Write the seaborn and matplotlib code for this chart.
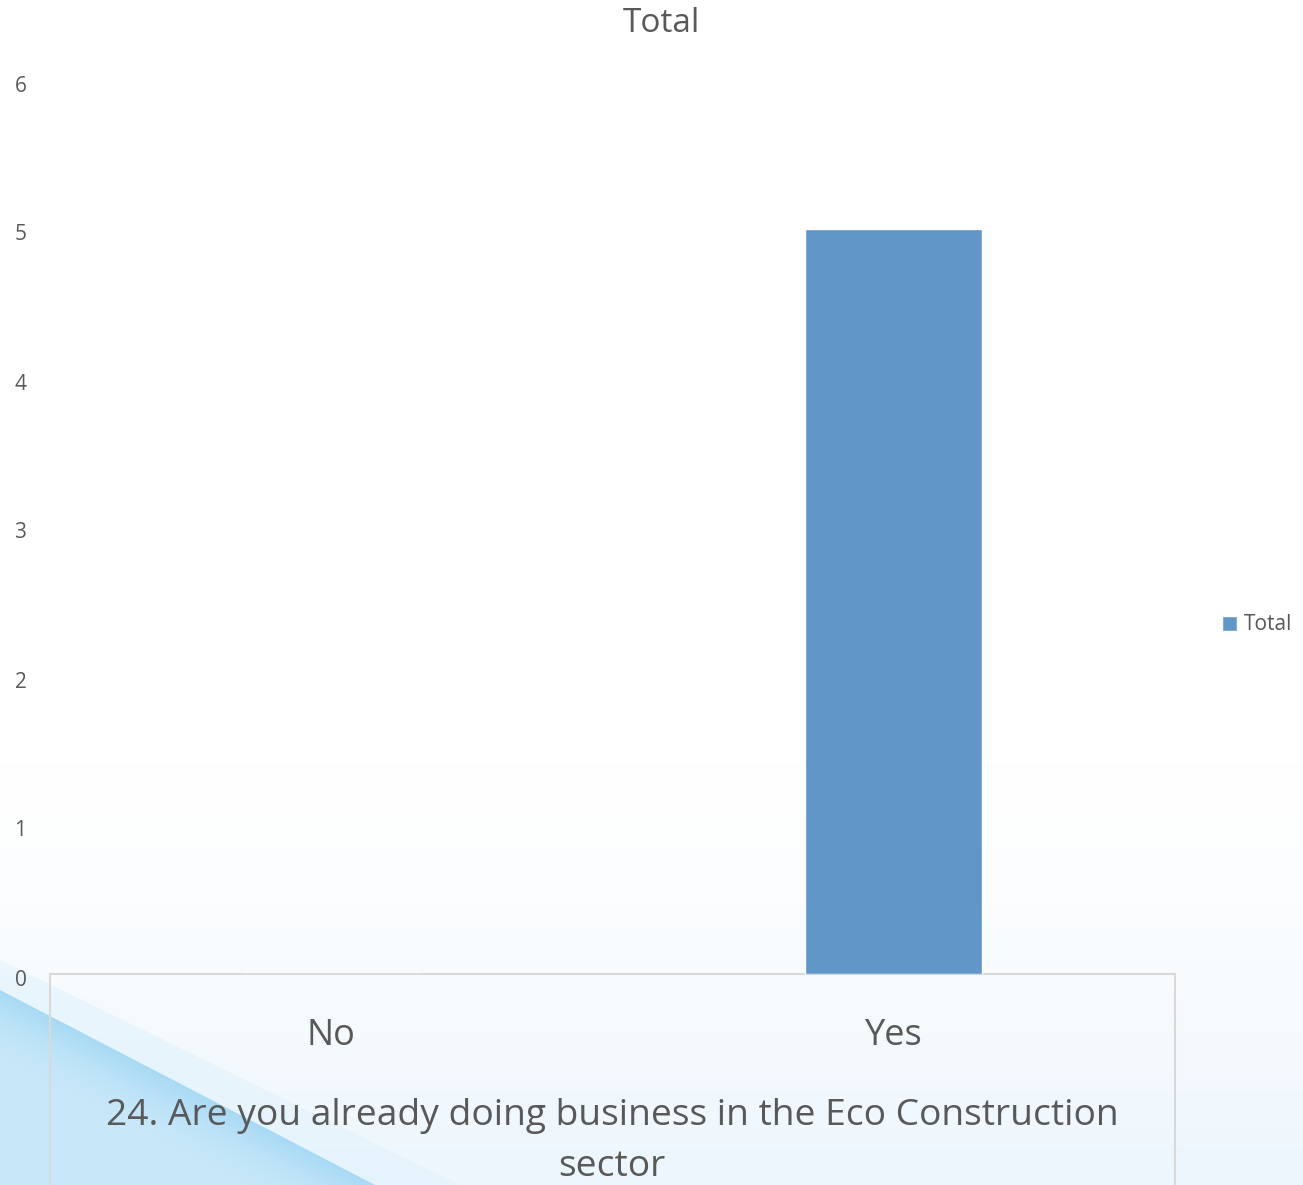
import numpy as np
import pandas as pd
import matplotlib
matplotlib.use("Agg")
import matplotlib.pyplot as plt
import matplotlib.transforms as mtransforms
import seaborn as sns
from matplotlib.patches import Rectangle, Polygon

categories = ["No", "Yes"]
totals = [0, 5]
y_ticks = [0, 1, 2, 3, 4, 5, 6]
series_name = "Total"
axis_title = "24. Are you already doing business in the Eco Construction\nsector"

sns.set_theme(style="white")
plt.rcParams["font.family"] = ["Open Sans", "DejaVu Sans"]

W, H = 1303, 1185
fig = plt.figure(figsize=(W / 100, H / 100), dpi=100)
fig.patch.set_facecolor("white")

# Background layer in pixel coordinates: faint haze and blue swoosh at lower left
bg = fig.add_axes([0, 0, 1, 1], zorder=-5)
bg.set_xlim(0, W)
bg.set_ylim(H, 0)
bg.axis("off")
grad = np.linspace(0, 1, 256).reshape(-1, 1)
grad = np.clip((grad - 0.64) / 0.36, 0, 1) ** 1.4
cmap = matplotlib.colors.LinearSegmentedColormap.from_list("haze", ["#ffffff", "#edf6fd"])
bg.imshow(grad, extent=[0, W, H, 0], cmap=cmap, aspect="auto", zorder=0)

# swoosh: soft band above the edge, then the main wedge with a shaded gradient
bg.add_patch(Polygon([(0, 960), (460, 1185), (0, 1185)], closed=True,
                     facecolor="#e1f2fc", edgecolor="none", alpha=0.6, zorder=1))
wedge = Polygon([(0, 990), (375, 1185), (0, 1185)], closed=True,
                facecolor="none", edgecolor="none", zorder=2)
bg.add_patch(wedge)
# distance from the edge line drives a light-to-lighter gradient
gx, gy = np.meshgrid(np.linspace(0, 375, 300), np.linspace(990, 1185, 200))
d = (gy - (990 + gx * 195 / 375)) / 70.0
shade = np.clip(1 - d, 0, 1) ** 1.6
wcmap = matplotlib.colors.LinearSegmentedColormap.from_list("sw", ["#c8e8f9", "#a8daf5"])
im = bg.imshow(shade, extent=[0, 375, 1185, 990], cmap=wcmap, aspect="auto",
               zorder=2, vmin=0, vmax=1, interpolation="bilinear")
im.set_clip_path(wedge)

left, right = 50 / W, 1175 / W
bottom, top = (H - 974) / H, (H - 80) / H
ax = fig.add_axes([left, bottom, right - left, top - bottom])
ax.patch.set_alpha(0)

df = pd.DataFrame({"category": categories, "value": totals})
sns.barplot(data=df, x="category", y="value", color="#6096C8", width=0.315,
            saturation=1, ax=ax, label=series_name)
ax.set_ylim(0, 6)
ax.set_xlim(-0.5, 1.5)
ax.set_yticks(y_ticks)
ax.set_yticklabels([str(t) for t in y_ticks], fontsize=15, color="#595959")
ax.tick_params(axis="y", length=0, pad=17)
ax.tick_params(axis="x", length=0, pad=32)
ax.set_xticklabels(categories, fontsize=26, color="#595959")
shift = mtransforms.ScaledTranslation(0, -3.5 / 100, fig.dpi_scale_trans)
for lbl in ax.get_yticklabels():
    lbl.set_transform(lbl.get_transform() + shift)
for s in ax.spines.values():
    s.set_visible(False)
ax.set_xlabel("")
ax.set_ylabel("")

# Field button frame beneath the category axis
fig.patches.append(Rectangle((50 / W, -0.05), (1175 - 50) / W, (H - 974) / H + 0.05,
                             transform=fig.transFigure, facecolor="none",
                             edgecolor="#d9d9d9", linewidth=1.5, zorder=-1))

fig.text(612 / W, 1 - 1176 / H, axis_title, ha="center", va="baseline",
         fontsize=26.7, color="#595959", linespacing=1.55)
fig.text(661 / W, 1 - 23 / H, "Total", ha="center", va="center",
         fontsize=24, color="#595959")

leg = ax.legend(loc="center left", bbox_to_anchor=(1214 / W, 1 - 625 / H),
                bbox_transform=fig.transFigure, frameon=False, fontsize=15,
                handlelength=0.72, handleheight=0.72, handletextpad=0.3,
                borderaxespad=0, labelcolor="#595959")

fig.savefig("out.png", dpi=100)
